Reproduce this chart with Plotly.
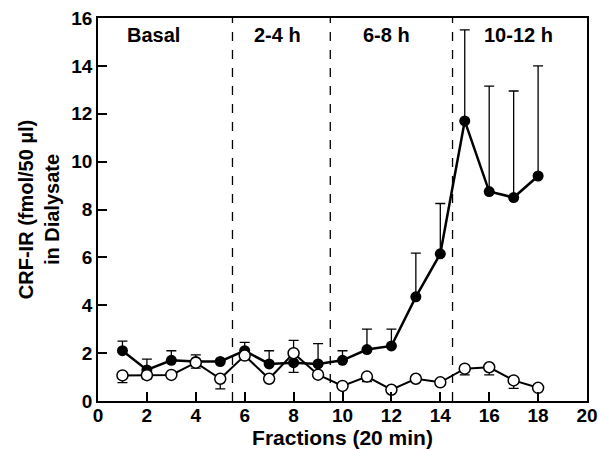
import plotly.graph_objects as go

fractions = list(range(1, 19))
filled_vals = [2.1, 1.3, 1.7, 1.65, 1.65, 2.1, 1.55, 1.6, 1.55, 1.7, 2.15, 2.3, 4.35, 6.15, 11.7, 8.75, 8.5, 9.4]
filled_err_up = [0.4, 0.45, 0.4, 0.28, 0.05, 0.35, 0.55, 0.0, 0.85, 0.4, 0.85, 0.7, 1.83, 2.1, 3.8, 4.4, 4.45, 4.6]
filled_err_down = [0, 0, 0, 0, 0, 0, 0, 0.4, 0, 0, 0, 0, 0, 0, 0, 0, 0, 0]

open_vals = [1.07, 1.08, 1.09, 1.6, 0.93, 1.9, 0.93, 2.0, 1.1, 0.63, 1.02, 0.47, 0.93, 0.78, 1.35, 1.41, 0.86, 0.55]
open_err_up = [0, 0, 0, 0, 0, 0, 0, 0.53, 0, 0, 0, 0, 0, 0, 0, 0, 0, 0]
open_err_down = [0.3, 0.15, 0, 0.23, 0.42, 0, 0, 0, 0, 0, 0.21, 0, 0, 0, 0.26, 0.32, 0.33, 0]

period_bounds = [5.5, 9.5, 14.5]
period_labels = ["Basal", "2-4 h", "6-8 h", "10-12 h"]
period_label_x = [2.27, 7.35, 11.8, 17.2]
period_label_y = 15.3

x_ticks = list(range(0, 21, 2))
y_ticks = list(range(0, 17, 2))

FONT = "Liberation Sans, Arial, Helvetica, sans-serif"

fig = go.Figure()

fig.add_trace(go.Scatter(
    x=fractions, y=filled_vals, mode="lines+markers",
    line=dict(color="black", width=2.5),
    marker=dict(symbol="circle", size=11, color="black"),
    error_y=dict(type="data", symmetric=False, array=filled_err_up,
                 arrayminus=filled_err_down, color="black", thickness=1.3, width=5),
    showlegend=False,
))
fig.add_trace(go.Scatter(
    x=fractions, y=open_vals, mode="lines+markers",
    line=dict(color="black", width=2),
    marker=dict(symbol="circle", size=11, color="white", line=dict(color="black", width=1.5)),
    error_y=dict(type="data", symmetric=False, array=open_err_up,
                 arrayminus=open_err_down, color="black", thickness=1.3, width=5),
    showlegend=False,
))

for b in period_bounds:
    fig.add_shape(type="line", xref="x", yref="paper", x0=b, x1=b, y0=0, y1=1,
                  line=dict(color="black", width=1.3, dash="dash"), layer="below")

for lx, lab in zip(period_label_x, period_labels):
    fig.add_annotation(x=lx, y=period_label_y, xref="x", yref="y", text=lab,
                       showarrow=False, font=dict(family=FONT, size=20, color="black", weight="bold"))

fig.update_layout(
    width=600, height=450,
    margin=dict(l=98, r=13, t=18, b=49),
    paper_bgcolor="white", plot_bgcolor="white",
    font=dict(family=FONT, color="black"),
)
fig.update_xaxes(
    range=[0, 20], tickvals=x_ticks, ticks="inside", ticklen=9, tickwidth=1.8,
    tickcolor="black", showline=True, linecolor="black", linewidth=1.8, mirror=True,
    showgrid=False, zeroline=False, automargin=False, ticklabeloverflow="allow",
    ticklabelstandoff=-4,
    tickfont=dict(family=FONT, size=19, color="black", weight="bold"),
    title=dict(text="Fractions (20 min)", standoff=0,
               font=dict(family=FONT, size=21, color="black", weight="bold")),
)
fig.update_yaxes(
    range=[0, 16], tickvals=y_ticks, ticks="inside", ticklen=9, tickwidth=1.8,
    tickcolor="black", showline=True, linecolor="black", linewidth=1.8, mirror=True,
    showgrid=False, zeroline=False, automargin=False, ticklabeloverflow="allow",
    tickfont=dict(family=FONT, size=19, color="black", weight="bold"),
    title=dict(text="CRF-IR (fmol/50 µl)<br>in Dialysate", standoff=6,
               font=dict(family=FONT, size=20, color="black", weight="bold")),
)

fig.write_html("out.html", config={"displayModeBar": False},
               post_script="document.body.style.margin='0px';")
